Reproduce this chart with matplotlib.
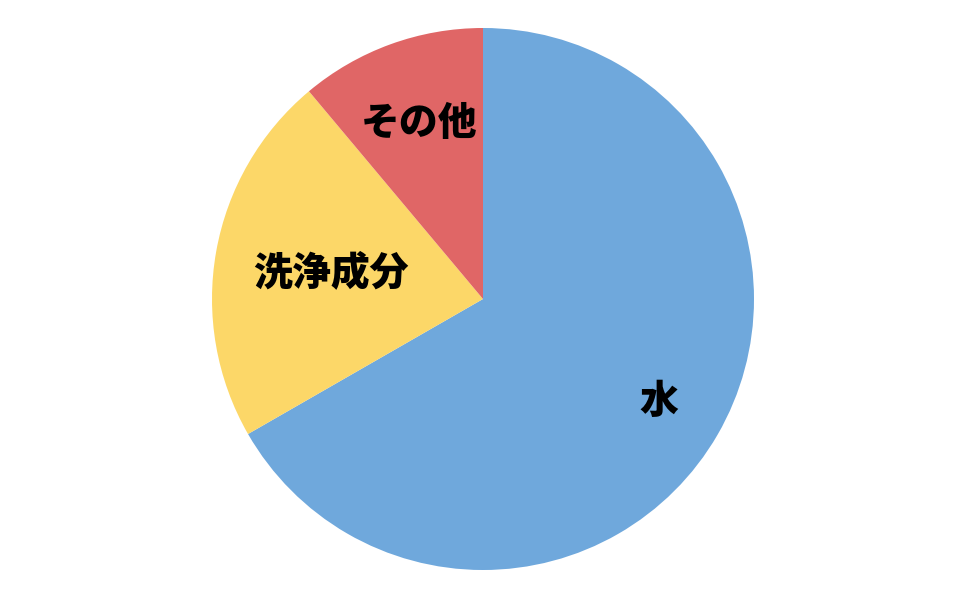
import matplotlib.pyplot as plt
import numpy as np

plt.rcParams['font.family'] = ['Noto Sans CJK JP', 'DejaVu Sans']

labels = ['水', '洗浄成分', 'その他']
values = [66.7, 22.2, 11.1]
colors = ['#6fa8dc', '#fcd768', '#e06666']
label_dist = [0.75, 0.57, 0.69]

fig = plt.figure(figsize=(9.6, 5.9), dpi=100)
# pie centred near (483, 299) px with radius ~271 px
ax = fig.add_axes([(483 - 271) / 960, (590 - 299 - 271) / 590, 542 / 960, 542 / 590])

wedges, texts = ax.pie(values, colors=colors, startangle=90, counterclock=False,
                       labels=labels, labeldistance=0.7, radius=1,
                       textprops=dict(fontsize=28, fontweight='heavy', color='black',
                                      ha='center', va='center'))

# each label sits at its own distance from the centre
for w, t, d in zip(wedges, texts, label_dist):
    ang = np.deg2rad((w.theta1 + w.theta2) / 2)
    t.set_position((d * np.cos(ang), d * np.sin(ang)))
    t.set_ha('center')
    t.set_va('center')

ax.set_xlim(-1, 1)
ax.set_ylim(-1, 1)
ax.set_aspect('equal')
ax.axis('off')

fig.savefig('out.png', dpi=100)
